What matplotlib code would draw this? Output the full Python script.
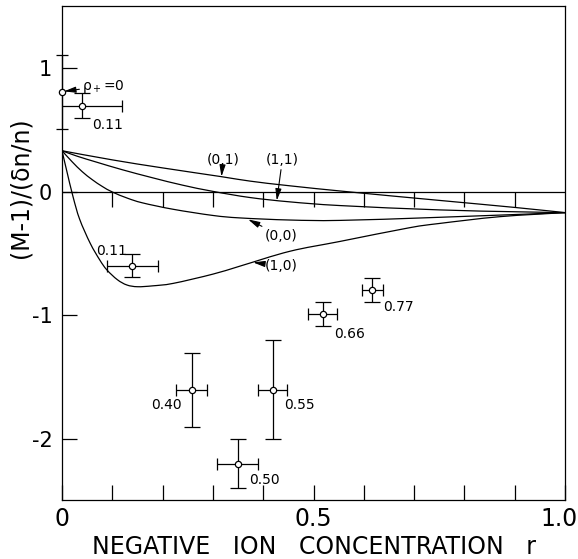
import numpy as np
import matplotlib
matplotlib.use('Agg')
import matplotlib.pyplot as plt
from matplotlib.path import Path
from matplotlib.patches import PathPatch
from matplotlib.transforms import ScaledTranslation

plt.rcParams['font.family'] = ['DejaVu Sans']

# theory curves, labelled (i,j)
r_01 = [0.0, 0.1, 0.2, 0.317, 0.374, 0.453, 0.573, 0.75, 0.9, 1.0]
m_01 = [0.334, 0.26, 0.195, 0.124, 0.088, 0.05, 0.0, -0.068, -0.125, -0.167]

r_11 = [0.0, 0.03, 0.07, 0.12, 0.18, 0.24, 0.3, 0.374, 0.453, 0.553, 0.75, 0.9, 1.0]
m_11 = [0.334, 0.29, 0.24, 0.18, 0.115, 0.055, 0.005, -0.045, -0.08, -0.11, -0.145, -0.16, -0.167]

r_00 = [0.0, 0.02, 0.04, 0.06, 0.08, 0.1, 0.13, 0.16, 0.221, 0.3, 0.354, 0.453, 0.553, 0.75, 1.0]
m_00 = [0.334, 0.245, 0.165, 0.1, 0.045, 0.0, -0.05, -0.088, -0.14, -0.19, -0.21, -0.227,
        -0.23, -0.205, -0.167]

r_10 = [0.0, 0.009, 0.022, 0.035, 0.056, 0.075, 0.089, 0.11, 0.129, 0.15, 0.18, 0.221,
        0.3, 0.354, 0.453, 0.553, 0.69, 0.75, 0.87, 1.0]
m_10 = [0.334, 0.178, -0.04, -0.22, -0.415, -0.55, -0.63, -0.71, -0.753, -0.767, -0.76,
        -0.74, -0.665, -0.6, -0.48, -0.40, -0.29, -0.255, -0.2, -0.167]

# measured points (r, M) with errors and rho_+ labels
pt_r = [0.039, 0.14, 0.258, 0.349, 0.419, 0.518, 0.617]
pt_m = [0.70, -0.597, -1.60, -2.20, -1.60, -0.99, -0.794]
pt_rerr = [0.08, 0.05, 0.031, 0.04, 0.029, 0.029, 0.021]
pt_merr = [0.10, 0.095, 0.30, 0.20, 0.40, 0.097, 0.097]
pt_lab = ['0.11', '0.11', '0.40', '0.50', '0.55', '0.66', '0.77']
lab_xy = [(0.06, 0.54), (0.068, -0.48), (0.238, -1.725), (0.372, -2.33),
          (0.441, -1.725), (0.541, -1.15), (0.638, -0.93)]
lab_ha = ['left', 'left', 'right', 'left', 'left', 'left', 'left']

# rho_+ = 0 point on the axis
p0_r, p0_m, p0_err = 0.0, 0.807, 0.30


def smooth_path(xs, ys):
    # Catmull-Rom through the read points, drawn as cubic Bezier segments
    p = np.column_stack([xs, ys])
    p = np.vstack([p[0], p, p[-1]])
    verts = [p[1]]
    codes = [Path.MOVETO]
    for i in range(1, len(p) - 2):
        c1 = p[i] + (p[i + 1] - p[i - 1]) / 6
        c2 = p[i + 1] - (p[i + 2] - p[i]) / 6
        verts += [c1, c2, p[i + 1]]
        codes += [Path.CURVE4] * 3
    return Path(verts, codes)


fig = plt.figure(figsize=(5.78, 5.59), dpi=100)
ax = fig.add_axes([0.1073, 0.1055, 0.8702, 0.8838])
ax.set_xlim(0, 1.0)
ax.set_ylim(-2.494, 1.506)

for r, m in [(r_01, m_01), (r_11, m_11), (r_00, m_00), (r_10, m_10)]:
    ax.add_patch(PathPatch(smooth_path(r, m), fill=False, edgecolor='black', lw=0.9))

# zero line with hanging ticks
ax.axhline(0, color='black', lw=0.9)
ax.vlines(np.arange(1, 10) * 0.1, -0.12, 0, color='black', lw=0.9)

ax.errorbar(pt_r, pt_m, yerr=pt_merr, fmt='none', ecolor='black', elinewidth=0.9,
            capsize=6, capthick=0.9)
ax.errorbar(pt_r, pt_m, xerr=pt_rerr, fmt='o', color='black', mfc='white', mec='black',
            ms=4.5, mew=0.9, ecolor='black', elinewidth=0.9, capsize=4, capthick=0.9,
            zorder=5)
ax.errorbar([p0_r], [p0_m], yerr=[p0_err], fmt='o', color='black', mfc='white',
            mec='black', ms=4.5, mew=0.9, ecolor='black', elinewidth=0.9, capsize=4,
            capthick=0.9, clip_on=False, zorder=6)

for s, (tx, ty), ha in zip(pt_lab, lab_xy, lab_ha):
    ax.text(tx, ty, s, fontsize=10, ha=ha, va='center')

arrow = dict(arrowstyle='-|>,head_length=0.7,head_width=0.18', color='black', lw=0.8,
             shrinkA=0, shrinkB=0)
ax.annotate('\u03c1$_+$=0', xy=(0.004, 0.815), xytext=(0.04, 0.858), fontsize=10,
            va='center', ha='left', arrowprops=arrow)
ax.annotate('(0,1)', xy=(0.317, 0.124), xytext=(0.32, 0.26), fontsize=10,
            ha='center', va='center', arrowprops=arrow)
ax.annotate('(1,1)', xy=(0.427, -0.07), xytext=(0.438, 0.26), fontsize=10,
            ha='center', va='center', arrowprops=arrow)
ax.annotate('(0,0)', xy=(0.370, -0.222), xytext=(0.403, -0.356), fontsize=10,
            ha='left', va='center', arrowprops=arrow)
ax.annotate('(1,0)', xy=(0.380, -0.57), xytext=(0.403, -0.60), fontsize=10,
            ha='left', va='center', arrowprops=arrow)

ax.set_xticks([0, 0.5, 1.0])
ax.set_xticklabels(['0', '0.5', '1.0'])
ax.set_xticks(np.arange(0, 11) * 0.1, minor=True)
ax.set_yticks([-2, -1, 0, 1])
ax.set_yticklabels(['-2', '-1', '0', '1'])
ax.tick_params(axis='x', which='both', direction='in', length=11, width=0.9,
               labelsize=17, pad=5)
ax.tick_params(axis='y', direction='in', length=11, width=0.9, labelsize=15, pad=7)
# keep the last x label inside the picture
last = ax.get_xticklabels()[-1]
last.set_transform(last.get_transform() + ScaledTranslation(-4 / 72, 0, fig.dpi_scale_trans))
for sp in ax.spines.values():
    sp.set_linewidth(0.9)

ax.set_xlabel('NEGATIVE   ION   CONCENTRATION   r', fontsize=17, labelpad=3)
ax.set_ylabel('(M-1)/(\u03b4n/n)', fontsize=17)
ax.yaxis.set_label_coords(-0.058, 0.632)

fig.savefig('out.png', dpi=100)
